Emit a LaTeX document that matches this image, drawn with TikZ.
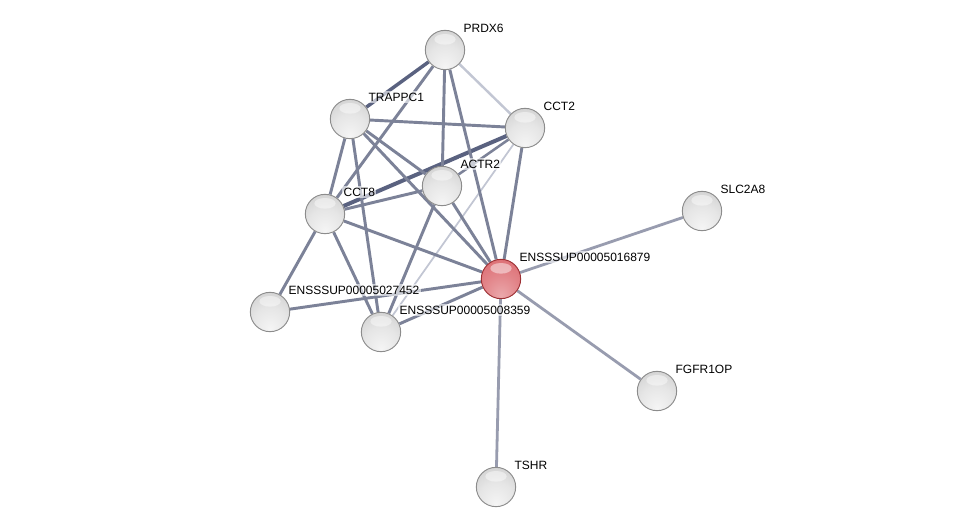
\documentclass[tikz,border=0pt]{standalone}
\usepackage{fontspec}
\setmainfont{Liberation Sans}
\usetikzlibrary{positioning}
\definecolor{protCol}{HTML}{D4D4D4}
\definecolor{protEdge}{HTML}{8C8C8C}
\definecolor{queryCol}{HTML}{DA6268}
\definecolor{queryEdge}{HTML}{9C3034}
\definecolor{linkDark}{HTML}{5A6280}
\definecolor{linkMid}{HTML}{7C8298}
\definecolor{linkPale}{HTML}{989CAF}
\definecolor{linkFaint}{HTML}{C2C6D3}
\pgfdeclareradialshading{protball}{\pgfpoint{0bp}{-22bp}}{%
  color(0bp)=(white!96!black); color(22bp)=(white!90!black); color(48bp)=(white!78!black);
  color(60bp)=(white!70!black); color(75bp)=(white!62!black)}
\pgfdeclareradialshading{queryball}{\pgfpoint{0bp}{-22bp}}{%
  color(0bp)=(queryCol!55!white); color(22bp)=(queryCol!78!white); color(48bp)=(queryCol);
  color(60bp)=(queryCol!88!black); color(75bp)=(queryCol!75!black)}
\pgfdeclarelayer{background}
\pgfdeclarelayer{edgelayer}
\pgfsetlayers{background,edgelayer,main}
\tikzset{
  prot/.style={circle, draw=protEdge, line width=0.7pt, shading=protball,
        minimum size=29.5pt, inner sep=0pt,
        path picture={\fill[white, opacity=0.45]
          ([yshift=8pt]path picture bounding box.center) ellipse (8pt and 4pt);}},
  query/.style={prot, draw=queryEdge, shading=queryball},
  lbl/.style={anchor=west, font=\fontsize{9}{11}\selectfont, fill=white,
        fill opacity=0.6, text opacity=1, inner sep=1pt},
  link/.style={draw=linkMid, line width=2.2pt},
  linkhi/.style={draw=linkDark, line width=3pt},
  linklo/.style={draw=linkPale, line width=2.1pt},
  linkfaint/.style={draw=linkFaint, line width=1.3pt},
}

\begin{document}
\begin{tikzpicture}[x=0.75pt, y=-0.75pt]
  \begin{pgfonlayer}{background}
    \fill[white] (0,0) rectangle (976,532);
  \end{pgfonlayer}
  \useasboundingbox (0,0) rectangle (976,532);
  % --- proteins ---
  \foreach \n/\x/\y/\t in {prdx6/445/50/PRDX6, trappc1/350/119/TRAPPC1,
      cct2/525/128/CCT2, actr2/442/186/ACTR2, cct8/325/214/CCT8,
      slc2a8/702/211/SLC2A8, e27452/270/312/ENSSSUP00005027452,
      e08359/381/332/ENSSSUP00005008359, fgfr1op/657/391/FGFR1OP,
      tshr/496/487/TSHR}{
    \node[prot] (\n) at (\x,\y) {};
    \node[lbl] (\n-l) at ([shift={(17,-22)}]\n.center) {\t};
  }
  \node[query] (e16879) at (501,279) {};
  \node[lbl] (e16879-l) at ([shift={(17,-22)}]e16879.center) {ENSSSUP00005016879};
  % --- interactions ---
  \begin{pgfonlayer}{edgelayer}
    \draw[linkhi] (cct2) -- (cct8);
    \draw[linkhi, line width=2.6pt] (prdx6) -- (trappc1);
    \draw[linkfaint, line width=1.8pt] (prdx6) -- (cct2);
    \draw[linkfaint] (cct2) -- (e08359);
    \draw[link, line width=1.9pt] (cct2) -- (actr2);
    \foreach \a/\b in {prdx6/cct8, prdx6/actr2, prdx6/e16879,
        trappc1/cct2, trappc1/cct8, trappc1/actr2, trappc1/e16879,
        trappc1/e08359, cct2/e16879, actr2/cct8, actr2/e16879,
        actr2/e08359, cct8/e16879, cct8/e27452, cct8/e08359,
        e27452/e16879, e08359/e16879}
      \draw[link] (\a) -- (\b);
    \foreach \b in {slc2a8, fgfr1op, tshr}
      \draw[linklo] (e16879) -- (\b);
  \end{pgfonlayer}
\end{tikzpicture}
\end{document}
